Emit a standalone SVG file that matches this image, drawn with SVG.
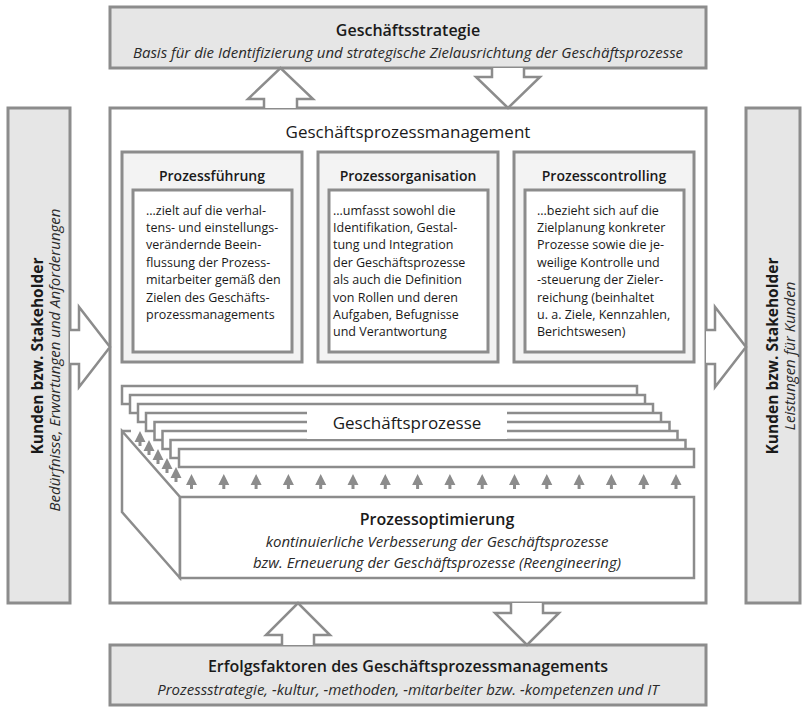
<svg xmlns="http://www.w3.org/2000/svg" xmlns:xlink="http://www.w3.org/1999/xlink" width="806" height="707" viewBox="0 0 806 707">
<style>
.box{fill:#e6e6e6;stroke:#8c8c8c;stroke-width:3}
.main{fill:#fff;stroke:#8c8c8c;stroke-width:3}
.outer{fill:#f3f3f3;stroke:#8c8c8c;stroke-width:3}
.inner{fill:#fff;stroke:#8c8c8c;stroke-width:3}
.layer{fill:#fff;stroke:#8c8c8c;stroke-width:2.5}
.arr{fill:#fff;stroke:#8c8c8c;stroke-width:2.5;stroke-linejoin:miter}
.ln{fill:none;stroke:#8c8c8c;stroke-width:2.5}
.tri{fill:#8c8c8c}
text{font-family:"Open Sans","Noto Sans","DejaVu Sans",sans-serif;fill:#1a1a1a}
.h{font-size:16px;font-weight:600;text-anchor:middle}
.k{font-size:15.5px;font-weight:700;text-anchor:middle}
.hr{font-size:17px;font-weight:400;text-anchor:middle}
.s{font-size:15px;font-style:italic;font-weight:400;text-anchor:middle;fill:#2a2a2a}
.b{font-size:12.5px}
.st{font-size:14px;font-weight:600;text-anchor:middle}
</style>
<defs>
<path id="ta" d="M0,0 L5.5,11 L1.5,11 L1.5,15 L-1.5,15 L-1.5,11 L-5.5,11 Z"/>
</defs>

<g id="geschaeftsstrategie">
<rect class="box" x="110" y="7" width="596" height="61"/>
<text class="h" x="408" y="36">Geschäftsstrategie</text>
<text class="s" x="408" y="58">Basis für die Identifizierung und strategische Zielausrichtung der Geschäftsprozesse</text>
</g>

<g id="kunden-links">
<rect class="box" x="8" y="108" width="62" height="495"/>
<text class="k" transform="translate(43,356) rotate(-90)" x="0" y="0">Kunden bzw. Stakeholder</text>
<text class="s" transform="translate(60,360) rotate(-90)" x="0" y="0">Bedürfnisse, Erwartungen und Anforderungen</text>
</g>

<g id="kunden-rechts">
<rect class="box" x="746" y="108" width="54" height="495"/>
<text class="k" transform="translate(778,356) rotate(-90)" x="0" y="0">Kunden bzw. Stakeholder</text>
<text class="s" transform="translate(795,356) rotate(-90)" x="0" y="0">Leistungen für Kunden</text>
</g>

<g id="erfolgsfaktoren">
<rect class="box" x="110" y="645" width="596" height="60"/>
<text class="h" x="408" y="672">Erfolgsfaktoren des Geschäftsprozessmanagements</text>
<text class="s" x="408" y="695">Prozessstrategie, -kultur, -methoden, -mitarbeiter bzw. -kompetenzen und IT</text>
</g>

<g id="geschaeftsprozessmanagement">
<rect class="main" x="110" y="108" width="596" height="495"/>
<text class="hr" x="408" y="138">Geschäftsprozessmanagement</text>
</g>

<g id="prozessfuehrung">
<rect class="outer" x="122" y="152" width="180" height="210"/>
<text class="st" x="212" y="181">Prozessführung</text>
<rect class="inner" x="133" y="190" width="159" height="162"/>
<text class="b" x="146" y="214.5"><tspan x="146">...zielt auf die verhal-</tspan><tspan x="146" dy="17.4">tens- und einstellungs-</tspan><tspan x="146" dy="17.4">verändernde Beein-</tspan><tspan x="146" dy="17.4">flussung der Prozess-</tspan><tspan x="146" dy="17.4">mitarbeiter gemäß den</tspan><tspan x="146" dy="17.4">Zielen des Geschäfts-</tspan><tspan x="146" dy="17.4">prozessmanagements</tspan></text>
</g>

<g id="prozessorganisation">
<rect class="outer" x="318" y="152" width="180" height="210"/>
<text class="st" x="408" y="181">Prozessorganisation</text>
<rect class="inner" x="329" y="190" width="159" height="162"/>
<text class="b" x="333" y="214.5"><tspan x="333">...umfasst sowohl die</tspan><tspan x="333" dy="17.4">Identifikation, Gestal-</tspan><tspan x="333" dy="17.4">tung und Integration</tspan><tspan x="333" dy="17.4">der Geschäftsprozesse</tspan><tspan x="333" dy="17.4">als auch die Definition</tspan><tspan x="333" dy="17.4">von Rollen und deren</tspan><tspan x="333" dy="17.4">Aufgaben, Befugnisse</tspan><tspan x="333" dy="17.4">und Verantwortung</tspan></text>
</g>

<g id="prozesscontrolling">
<rect class="outer" x="514" y="152" width="180" height="210"/>
<text class="st" x="604" y="181">Prozesscontrolling</text>
<rect class="inner" x="525" y="190" width="159" height="162"/>
<text class="b" x="537" y="214.5"><tspan x="537">...bezieht sich auf die</tspan><tspan x="537" dy="17.4">Zielplanung konkreter</tspan><tspan x="537" dy="17.4">Prozesse sowie die je-</tspan><tspan x="537" dy="17.4">weilige Kontrolle und</tspan><tspan x="537" dy="17.4">-steuerung der Zieler-</tspan><tspan x="537" dy="17.4">reichung (beinhaltet</tspan><tspan x="537" dy="17.4">u. a. Ziele, Kennzahlen,</tspan><tspan x="537" dy="17.4">Berichtswesen)</tspan></text>
</g>

<g id="prozessoptimierung">
<path class="ln" d="M122,431 L131,431"/>
<polygon class="layer" points="122,431 180,497 180,578 122,512"/>
<rect class="layer" x="180" y="497" width="514" height="81"/>
<text class="h" x="437" y="525">Prozessoptimierung</text>
<text class="s" x="437" y="547">kontinuierliche Verbesserung der Geschäftsprozesse</text>
<text class="s" x="437" y="568">bzw. Erneuerung der Geschäftsprozesse (Reengineering)</text>
<g class="tri">
<use xlink:href="#ta" x="140" y="431"/><use xlink:href="#ta" x="149" y="440"/><use xlink:href="#ta" x="158" y="449"/><use xlink:href="#ta" x="167" y="458"/><use xlink:href="#ta" x="176" y="467"/>
<use xlink:href="#ta" x="191.5" y="474"/><use xlink:href="#ta" x="223.8" y="474"/><use xlink:href="#ta" x="256.1" y="474"/><use xlink:href="#ta" x="288.4" y="474"/><use xlink:href="#ta" x="320.7" y="474"/><use xlink:href="#ta" x="353" y="474"/><use xlink:href="#ta" x="385.3" y="474"/><use xlink:href="#ta" x="417.6" y="474"/><use xlink:href="#ta" x="449.9" y="474"/><use xlink:href="#ta" x="482.2" y="474"/><use xlink:href="#ta" x="514.5" y="474"/><use xlink:href="#ta" x="546.8" y="474"/><use xlink:href="#ta" x="579.1" y="474"/><use xlink:href="#ta" x="611.4" y="474"/><use xlink:href="#ta" x="643.7" y="474"/><use xlink:href="#ta" x="676" y="474"/>
</g>
</g>

<g id="geschaeftsprozesse">
<rect class="layer" x="122" y="386" width="515" height="18"/>
<rect class="layer" x="130" y="395" width="515" height="18"/>
<rect class="layer" x="138" y="404" width="515" height="18"/>
<rect class="layer" x="146" y="413" width="515" height="18"/>
<rect class="layer" x="154.5" y="422" width="515" height="18"/>
<rect class="layer" x="162.5" y="431" width="515" height="18"/>
<rect class="layer" x="170.5" y="440" width="515" height="18"/>
<rect class="layer" x="179" y="449" width="515" height="18"/>
<rect x="307" y="406" width="200" height="33" fill="#fff"/>
<text class="hr" x="407" y="429">Geschäftsprozesse</text>
</g>

<g id="connectors">
<path class="arr" d="M264,108 L264,99 L248,99 L280.5,68 L313,99 L297,99 L297,108"/>
<path class="arr" d="M492,68 L492,77 L476,77 L508,108 L540,77 L524,77 L524,68"/>
<path class="arr" d="M282,645 L282,635 L266,635 L298,603 L330,635 L314,635 L314,645"/>
<path class="arr" d="M511,603 L511,613 L495,613 L527,645 L559,613 L543,613 L543,603"/>
<path class="arr" d="M70,330 L79,330 L79,307 L110,347 L79,387 L79,364 L70,364"/>
<path class="arr" d="M706,330 L715,330 L715,307 L746,347 L715,387 L715,364 L706,364"/>
</g>
</svg>
